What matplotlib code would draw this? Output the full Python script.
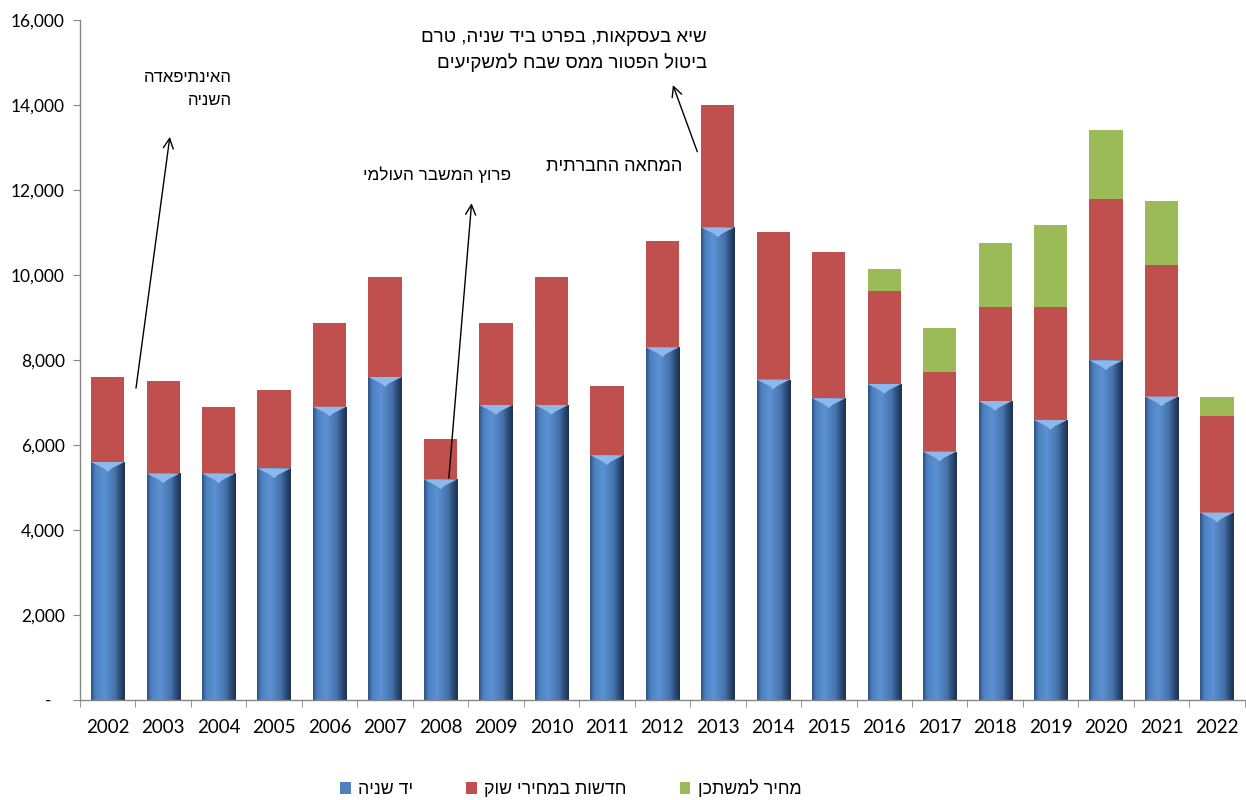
import numpy as np
import matplotlib
matplotlib.use('Agg')
import matplotlib.pyplot as plt
from matplotlib.patches import Polygon
from matplotlib.colors import LinearSegmentedColormap
from matplotlib.ticker import FuncFormatter, FixedLocator

# נתונים: עסקאות לפי סוג
years = ['2002', '2003', '2004', '2005', '2006', '2007', '2008', '2009', '2010', '2011', '2012',
         '2013', '2014', '2015', '2016', '2017', '2018', '2019', '2020', '2021', '2022']
second_hand = [5600, 5330, 5330, 5450, 6900, 7600, 5190, 6940, 6940, 5760, 8300,
               11120, 7540, 7100, 7435, 5845, 7035, 6590, 7990, 7140, 4410]
new_market = [2000, 2170, 1570, 1850, 1980, 2350, 960, 1930, 3010, 1630, 2490,
              2890, 3480, 3430, 2200, 1875, 2205, 2650, 3800, 3100, 2280]
buyer_price = [0, 0, 0, 0, 0, 0, 0, 0, 0, 0, 0,
               0, 0, 0, 500, 1035, 1505, 1945, 1620, 1505, 430]

series_names = ['יד שניה', 'חדשות במחירי שוק', 'מחיר למשתכן']

# הערות על הגרף: (טקסט, מיקום טקסט, ראש החץ, זנב החץ)
notes = [
    (['האינתיפאדה', 'השניה'], (2.24, [14640, 14100]), (1.12, 13250), (0.51, 7340)),
    (['פרוץ המשבר העולמי'], (7.28, [12350]), (6.56, 11690), (6.15, 5220)),
    (['המחאה החברתית'], (10.35, [12560]), (10.19, 14470), (10.63, 12900)),
    (['שיא בעסקאות, בפרט ביד שניה, טרם', 'ביטול הפטור ממס שבח למשקיעים'],
     (10.8, [15600, 15010]), None, None),
]

blue = '#4F81BD'
red = '#C0504D'
green = '#9BBB59'
heb_font = ['Liberation Sans', 'DejaVu Sans']
num_font = ['Lato', 'DejaVu Sans']


def rtl(s):
    # matplotlib לא תומך ב-bidi, הופכים את סדר התווים לתצוגה
    return s[::-1]


fig = plt.figure(figsize=(12.46, 8), dpi=100)
ax = fig.add_axes([0.0642, 0.125, 0.9348, 0.85])

x = np.arange(len(years))
w = 0.6
sh = np.array(second_hand)
nm = np.array(new_market)
bp = np.array(buyer_price)

bars_blue = ax.bar(x, sh, w, color=blue, label=series_names[0], zorder=2)
ax.bar(x, nm, w, bottom=sh, color=red, label=series_names[1], zorder=2)
ax.bar(x[bp > 0], bp[bp > 0], w, bottom=(sh + nm)[bp > 0], color=green,
       label=series_names[2], zorder=2)

# אפקט גליל על העמודות הכחולות
cyl = LinearSegmentedColormap.from_list('cyl', [
    (0.0, '#2E5282'), (0.12, '#4C80C0'), (0.38, '#5C92D4'),
    (0.7, '#4673AD'), (0.9, '#27446C'), (1.0, '#1C3252')])
grad = np.linspace(0, 1, 64).reshape(1, -1)
for b in bars_blue:
    bx, bw, bh = b.get_x(), b.get_width(), b.get_height()
    im = ax.imshow(grad, cmap=cyl, extent=[bx, bx + bw, 0, bh], aspect='auto',
                   zorder=2.5, interpolation='bicubic')
    im.set_clip_path(b)
    cap = Polygon([[bx, bh], [bx + bw, bh], [bx + bw * 0.62, bh - 150],
                   [bx + bw * 0.5, bh - 230], [bx + bw * 0.38, bh - 150]],
                  closed=True, color='#8DB8EC', zorder=2.6, lw=0)
    ax.add_patch(cap)

ax.set_xlim(-0.5, len(years) - 0.5)
ax.set_ylim(0, 16000)

# צירים
for s in ['top', 'right']:
    ax.spines[s].set_visible(False)
for s in ['left', 'bottom']:
    ax.spines[s].set_color('#868686')
    ax.spines[s].set_linewidth(1)

ax.set_yticks(np.arange(0, 16001, 2000))
ax.yaxis.set_major_formatter(FuncFormatter(lambda v, p: '-   ' if v == 0 else f'{v:,.0f}'))
ax.tick_params(axis='y', direction='out', length=5, color='#868686', pad=6,
               labelsize=12.5)
ax.set_xticks(x)
ax.set_xticklabels(years)
ax.xaxis.set_minor_locator(FixedLocator(np.arange(-0.5, len(years), 1)))
ax.tick_params(axis='x', which='major', length=0, pad=14, labelsize=13.5)
ax.tick_params(axis='x', which='minor', length=5, color='#868686', direction='out')
for lbl in ax.get_xticklabels() + ax.get_yticklabels():
    lbl.set_family(num_font)

# הערות וחצים
note_sizes = [12, 12.4, 13, 13.5]
for (lines, (tx, tys), head, tail), fs in zip(notes, note_sizes):
    for line, ty in zip(lines, tys):
        ax.text(tx, ty, rtl(line), ha='right', va='center', fontsize=fs,
                family=heb_font, color='black', zorder=5)
    if head is not None:
        ax.annotate('', xy=head, xytext=tail,
                    arrowprops=dict(arrowstyle='->', lw=1, color='black',
                                    shrinkA=0, shrinkB=0, mutation_scale=18),
                    zorder=5)

# מקרא
handles, labels = ax.get_legend_handles_labels()
leg = fig.legend(handles, [rtl(l) for l in labels], loc='lower center',
                 bbox_to_anchor=(0.458, -0.018), ncol=3, frameon=False,
                 handlelength=0.6, handleheight=0.6, handletextpad=0.4,
                 columnspacing=3.0, prop={'family': heb_font, 'size': 12.8})

fig.savefig('out.png', dpi=100)
